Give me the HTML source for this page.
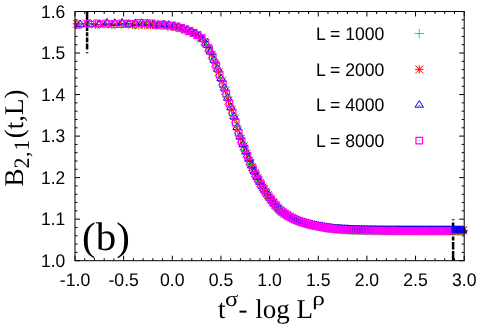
<!DOCTYPE html>
<html><head><meta charset="utf-8"><title>plot</title>
<style>
html,body{margin:0;padding:0;background:#fff;}
body{width:480px;height:329px;overflow:hidden;font-family:"Liberation Sans",sans-serif;}
svg{display:block;will-change:transform;}
text{text-rendering:geometricPrecision;}
</style></head><body>
<svg width="480" height="329" viewBox="0 0 480 329">
<rect width="480" height="329" fill="#fff"/>
<path d="M75 260.7v-5M75 11.5v5M84.73 260.7v-2.5M84.73 11.5v2.5M94.46 260.7v-2.5M94.46 11.5v2.5M104.19 260.7v-2.5M104.19 11.5v2.5M113.92 260.7v-2.5M113.92 11.5v2.5M123.65 260.7v-5M123.65 11.5v5M133.38 260.7v-2.5M133.38 11.5v2.5M143.11 260.7v-2.5M143.11 11.5v2.5M152.84 260.7v-2.5M152.84 11.5v2.5M162.57 260.7v-2.5M162.57 11.5v2.5M172.3 260.7v-5M172.3 11.5v5M182.03 260.7v-2.5M182.03 11.5v2.5M191.76 260.7v-2.5M191.76 11.5v2.5M201.49 260.7v-2.5M201.49 11.5v2.5M211.22 260.7v-2.5M211.22 11.5v2.5M220.95 260.7v-5M220.95 11.5v5M230.68 260.7v-2.5M230.68 11.5v2.5M240.41 260.7v-2.5M240.41 11.5v2.5M250.14 260.7v-2.5M250.14 11.5v2.5M259.87 260.7v-2.5M259.87 11.5v2.5M269.6 260.7v-5M269.6 11.5v5M279.33 260.7v-2.5M279.33 11.5v2.5M289.06 260.7v-2.5M289.06 11.5v2.5M298.79 260.7v-2.5M298.79 11.5v2.5M308.52 260.7v-2.5M308.52 11.5v2.5M318.25 260.7v-5M318.25 11.5v5M327.98 260.7v-2.5M327.98 11.5v2.5M337.71 260.7v-2.5M337.71 11.5v2.5M347.44 260.7v-2.5M347.44 11.5v2.5M357.17 260.7v-2.5M357.17 11.5v2.5M366.9 260.7v-5M366.9 11.5v5M376.63 260.7v-2.5M376.63 11.5v2.5M386.36 260.7v-2.5M386.36 11.5v2.5M396.09 260.7v-2.5M396.09 11.5v2.5M405.82 260.7v-2.5M405.82 11.5v2.5M415.55 260.7v-5M415.55 11.5v5M425.28 260.7v-2.5M425.28 11.5v2.5M435.01 260.7v-2.5M435.01 11.5v2.5M444.74 260.7v-2.5M444.74 11.5v2.5M454.47 260.7v-2.5M454.47 11.5v2.5M464.2 260.7v-5M464.2 11.5v5M75 260.7h5M464.2 260.7h-5M75 252.39h2.5M464.2 252.39h-2.5M75 244.09h2.5M464.2 244.09h-2.5M75 235.78h2.5M464.2 235.78h-2.5M75 227.47h2.5M464.2 227.47h-2.5M75 219.17h5M464.2 219.17h-5M75 210.86h2.5M464.2 210.86h-2.5M75 202.55h2.5M464.2 202.55h-2.5M75 194.25h2.5M464.2 194.25h-2.5M75 185.94h2.5M464.2 185.94h-2.5M75 177.63h5M464.2 177.63h-5M75 169.33h2.5M464.2 169.33h-2.5M75 161.02h2.5M464.2 161.02h-2.5M75 152.71h2.5M464.2 152.71h-2.5M75 144.41h2.5M464.2 144.41h-2.5M75 136.1h5M464.2 136.1h-5M75 127.79h2.5M464.2 127.79h-2.5M75 119.49h2.5M464.2 119.49h-2.5M75 111.18h2.5M464.2 111.18h-2.5M75 102.87h2.5M464.2 102.87h-2.5M75 94.57h5M464.2 94.57h-5M75 86.26h2.5M464.2 86.26h-2.5M75 77.95h2.5M464.2 77.95h-2.5M75 69.65h2.5M464.2 69.65h-2.5M75 61.34h2.5M464.2 61.34h-2.5M75 53.03h5M464.2 53.03h-5M75 44.73h2.5M464.2 44.73h-2.5M75 36.42h2.5M464.2 36.42h-2.5M75 28.11h2.5M464.2 28.11h-2.5M75 19.81h2.5M464.2 19.81h-2.5M75 11.5h5M464.2 11.5h-5" stroke="#000" stroke-width="1" fill="none"/>
<path d="M87.1 11.5V26M87.1 27.3V31M87.1 32.2V36.2M87.1 37.5V42.2M87.1 43.6V49.4M87.1 52.3V53.3" stroke="#000" stroke-width="2.5" fill="none"/>
<path d="M453.1 219.3V220.3M453.1 222.5V226.6M453.1 228V235M453.1 236.4V240.4M453.1 242.1V249.6M453.1 251.1V260.6" stroke="#000" stroke-width="2.5" fill="none"/>
<path d="M74.6 24.15h9.4M79.3 19.45v9.4M84.27 23.8h9.4M88.97 19.1v9.4M93.2 24.8h9.4M97.9 20.1v9.4M101.5 23.64h9.4M106.2 18.94v9.4M109.26 24.57h9.4M113.96 19.87v9.4M116.56 24.23h9.4M121.26 19.53v9.4M123.44 23.64h9.4M128.14 18.94v9.4M129.95 24.59h9.4M134.65 19.89v9.4M136.15 23.72h9.4M140.85 19.02v9.4M142.05 24.61h9.4M146.75 19.91v9.4M147.7 24.01h9.4M152.4 19.31v9.4M153.11 24.39h9.4M157.81 19.69v9.4M158.3 25.55h9.4M163 20.85v9.4M163.29 26.8h9.4M167.99 22.1v9.4M168.11 26.58h9.4M172.81 21.88v9.4M172.76 27.77h9.4M177.46 23.07v9.4M177.25 29.33h9.4M181.95 24.63v9.4M181.61 30.9h9.4M186.31 26.2v9.4M185.83 32.28h9.4M190.53 27.58v9.4M189.92 34.05h9.4M194.62 29.35v9.4M193.9 36.4h9.4M198.6 31.7v9.4M197.78 39.57h9.4M202.48 34.87v9.4M201.55 44.43h9.4M206.25 39.73v9.4M205.23 51.11h9.4M209.93 46.41v9.4M208.81 59h9.4M213.51 54.3v9.4M212.32 67.81h9.4M217.02 63.11v9.4M215.74 77.04h9.4M220.44 72.34v9.4M219.09 86.55h9.4M223.79 81.85v9.4M222.36 96.25h9.4M227.06 91.55v9.4M225.57 105.79h9.4M230.27 101.09v9.4M228.71 114.89h9.4M233.41 110.19v9.4M231.8 125.36h9.4M236.5 120.66v9.4M234.82 135.21h9.4M239.52 130.51v9.4M237.79 143.2h9.4M242.49 138.5v9.4M240.7 150.5h9.4M245.4 145.8v9.4M243.56 157.67h9.4M248.26 152.97v9.4M246.38 164.54h9.4M251.08 159.84v9.4M249.15 170.75h9.4M253.85 166.05v9.4M251.87 176.16h9.4M256.57 171.46v9.4M254.55 181.16h9.4M259.25 176.46v9.4M257.19 185.77h9.4M261.89 181.07v9.4M259.79 190.01h9.4M264.49 185.31v9.4M262.35 193.88h9.4M267.05 189.18v9.4M264.87 197.42h9.4M269.57 192.72v9.4M267.36 200.8h9.4M272.06 196.1v9.4M269.82 203.98h9.4M274.52 199.28v9.4M272.24 206.87h9.4M276.94 202.17v9.4M274.63 209.39h9.4M279.33 204.69v9.4M276.99 211.46h9.4M281.69 206.76v9.4M279.32 213.17h9.4M284.02 208.47v9.4M281.63 214.72h9.4M286.33 210.02v9.4M283.9 216.13h9.4M288.6 211.43v9.4M286.15 217.4h9.4M290.85 212.7v9.4M288.37 218.55h9.4M293.07 213.85v9.4M290.57 219.59h9.4M295.27 214.89v9.4M292.75 220.51h9.4M297.45 215.81v9.4M294.9 221.35h9.4M299.6 216.65v9.4M297.02 222.09h9.4M301.72 217.39v9.4M299.13 222.78h9.4M303.83 218.08v9.4M301.21 223.41h9.4M305.91 218.71v9.4M303.28 223.99h9.4M307.98 219.29v9.4M305.32 224.52h9.4M310.02 219.82v9.4M307.35 225.02h9.4M312.05 220.32v9.4M309.35 225.48h9.4M314.05 220.78v9.4M311.34 225.9h9.4M316.04 221.2v9.4M313.31 226.3h9.4M318.01 221.6v9.4M315.26 226.68h9.4M319.96 221.98v9.4M317.19 227.05h9.4M321.89 222.35v9.4M319.11 227.41h9.4M323.81 222.71v9.4M321.01 227.74h9.4M325.71 223.04v9.4M322.9 228.06h9.4M327.6 223.36v9.4M324.77 228.35h9.4M329.47 223.65v9.4M326.62 228.62h9.4M331.32 223.92v9.4M328.46 228.85h9.4M333.16 224.15v9.4M330.29 229.05h9.4M334.99 224.35v9.4M332.1 229.21h9.4M336.8 224.51v9.4M333.9 229.35h9.4M338.6 224.65v9.4M335.69 229.48h9.4M340.39 224.78v9.4M337.46 229.61h9.4M342.16 224.91v9.4M339.22 229.73h9.4M343.92 225.03v9.4M340.97 229.84h9.4M345.67 225.14v9.4M342.71 229.94h9.4M347.41 225.24v9.4M344.43 230.03h9.4M349.13 225.33v9.4M346.14 230.12h9.4M350.84 225.42v9.4M347.85 230.19h9.4M352.55 225.49v9.4M349.54 230.26h9.4M354.24 225.56v9.4M351.22 230.31h9.4M355.92 225.61v9.4M352.89 230.36h9.4M357.59 225.66v9.4M354.55 230.4h9.4M359.25 225.7v9.4M356.19 230.42h9.4M360.89 225.72v9.4M357.83 230.45h9.4M362.53 225.75v9.4M359.46 230.48h9.4M364.16 225.78v9.4M361.08 230.5h9.4M365.78 225.8v9.4M362.7 230.53h9.4M367.4 225.83v9.4M364.3 230.55h9.4M369 225.85v9.4M365.89 230.57h9.4M370.59 225.87v9.4M367.48 230.59h9.4M372.18 225.89v9.4M369.05 230.61h9.4M373.75 225.91v9.4M370.62 230.63h9.4M375.32 225.93v9.4M372.18 230.65h9.4M376.88 225.95v9.4M373.73 230.66h9.4M378.43 225.96v9.4M375.27 230.68h9.4M379.97 225.98v9.4M376.81 230.69h9.4M381.51 225.99v9.4M378.34 230.71h9.4M383.04 226.01v9.4M379.86 230.72h9.4M384.56 226.02v9.4M381.37 230.73h9.4M386.07 226.03v9.4M382.88 230.74h9.4M387.58 226.04v9.4M384.38 230.75h9.4M389.08 226.05v9.4M385.87 230.76h9.4M390.57 226.06v9.4M387.36 230.77h9.4M392.06 226.07v9.4M388.84 230.78h9.4M393.54 226.08v9.4M390.31 230.78h9.4M395.01 226.08v9.4M391.77 230.79h9.4M396.47 226.09v9.4M393.23 230.79h9.4M397.93 226.09v9.4M394.69 230.8h9.4M399.39 226.1v9.4M396.14 230.8h9.4M400.84 226.1v9.4M397.58 230.81h9.4M402.28 226.11v9.4M399.01 230.81h9.4M403.71 226.11v9.4M400.44 230.81h9.4M405.14 226.11v9.4M401.87 230.82h9.4M406.57 226.12v9.4M403.29 230.82h9.4M407.99 226.12v9.4M404.7 230.82h9.4M409.4 226.12v9.4M406.11 230.82h9.4M410.81 226.12v9.4M407.51 230.83h9.4M412.21 226.13v9.4M408.91 230.83h9.4M413.61 226.13v9.4M410.3 230.83h9.4M415 226.13v9.4M411.69 230.84h9.4M416.39 226.14v9.4M413.07 230.84h9.4M417.77 226.14v9.4M414.45 230.84h9.4M419.15 226.14v9.4M415.82 230.84h9.4M420.52 226.14v9.4M417.19 230.85h9.4M421.89 226.15v9.4M418.55 230.85h9.4M423.25 226.15v9.4M419.91 230.85h9.4M424.61 226.15v9.4M421.27 230.85h9.4M425.97 226.15v9.4M422.62 230.86h9.4M427.32 226.16v9.4M423.96 230.86h9.4M428.66 226.16v9.4M425.3 230.86h9.4M430 226.16v9.4M426.64 230.86h9.4M431.34 226.16v9.4M427.97 230.86h9.4M432.67 226.16v9.4M429.3 230.87h9.4M434 226.17v9.4M430.63 230.87h9.4M435.33 226.17v9.4M431.95 230.87h9.4M436.65 226.17v9.4M433.27 230.87h9.4M437.97 226.17v9.4M434.58 230.87h9.4M439.28 226.17v9.4M435.89 230.87h9.4M440.59 226.17v9.4M437.2 230.88h9.4M441.9 226.18v9.4M438.5 230.88h9.4M443.2 226.18v9.4M439.8 230.88h9.4M444.5 226.18v9.4M441.09 230.88h9.4M445.79 226.18v9.4M442.38 230.88h9.4M447.08 226.18v9.4M443.67 230.88h9.4M448.37 226.18v9.4M444.95 230.89h9.4M449.65 226.19v9.4M446.24 230.89h9.4M450.94 226.19v9.4M447.51 230.89h9.4M452.21 226.19v9.4M448.79 230.89h9.4M453.49 226.19v9.4M450.06 230.89h9.4M454.76 226.19v9.4M451.33 230.89h9.4M456.03 226.19v9.4M452.59 230.89h9.4M457.29 226.19v9.4M453.85 230.89h9.4M458.55 226.19v9.4M455.11 230.89h9.4M459.81 226.19v9.4M456.37 230.89h9.4M461.07 226.19v9.4M457.62 230.89h9.4M462.32 226.19v9.4M458.87 230.9h9.4M463.57 226.2v9.4" fill="none" stroke="#00ff00" stroke-width="1" stroke-linejoin="round"/>
<path d="M76.9 19.63v8.4M73 19.93l7.8 7.8M73 27.73l7.8 -7.8M72.7 23.83h8.4M86.65 19.23v8.4M82.75 19.53l7.8 7.8M82.75 27.33l7.8 -7.8M82.45 23.43h8.4M95.65 20.44v8.4M91.75 20.74l7.8 7.8M91.75 28.54l7.8 -7.8M91.45 24.64h8.4M104.01 19.97v8.4M100.11 20.27l7.8 7.8M100.11 28.07l7.8 -7.8M99.81 24.17h8.4M111.82 20.46v8.4M107.92 20.76l7.8 7.8M107.92 28.56l7.8 -7.8M107.62 24.66h8.4M119.15 19.56v8.4M115.25 19.86l7.8 7.8M115.25 27.66l7.8 -7.8M114.95 23.76h8.4M126.07 19.36v8.4M122.17 19.66l7.8 7.8M122.17 27.46l7.8 -7.8M121.87 23.56h8.4M132.63 20.58v8.4M128.73 20.88l7.8 7.8M128.73 28.68l7.8 -7.8M128.43 24.78h8.4M138.85 20.99v8.4M134.95 21.29l7.8 7.8M134.95 29.09l7.8 -7.8M134.65 25.19h8.4M144.78 20.81v8.4M140.88 21.11l7.8 7.8M140.88 28.91l7.8 -7.8M140.58 25.01h8.4M150.45 20.82v8.4M146.55 21.12l7.8 7.8M146.55 28.92l7.8 -7.8M146.25 25.02h8.4M155.88 21.11v8.4M151.98 21.41l7.8 7.8M151.98 29.21l7.8 -7.8M151.68 25.31h8.4M161.09 21.37v8.4M157.19 21.67l7.8 7.8M157.19 29.47l7.8 -7.8M156.89 25.57h8.4M166.11 20.96v8.4M162.21 21.26l7.8 7.8M162.21 29.06l7.8 -7.8M161.91 25.16h8.4M170.94 22.17v8.4M167.04 22.47l7.8 7.8M167.04 30.27l7.8 -7.8M166.74 26.37h8.4M175.61 22.89v8.4M171.71 23.19l7.8 7.8M171.71 30.99l7.8 -7.8M171.41 27.09h8.4M180.12 23.66v8.4M176.22 23.96l7.8 7.8M176.22 31.76l7.8 -7.8M175.92 27.86h8.4M184.48 25.01v8.4M180.58 25.31l7.8 7.8M180.58 33.11l7.8 -7.8M180.28 29.21h8.4M188.71 26.78v8.4M184.81 27.08l7.8 7.8M184.81 34.88l7.8 -7.8M184.51 30.98h8.4M192.82 28.57v8.4M188.92 28.87l7.8 7.8M188.92 36.67l7.8 -7.8M188.62 32.77h8.4M196.82 30.74v8.4M192.92 31.04l7.8 7.8M192.92 38.84l7.8 -7.8M192.62 34.94h8.4M200.7 33.47v8.4M196.8 33.77l7.8 7.8M196.8 41.57l7.8 -7.8M196.5 37.67h8.4M204.48 37.34v8.4M200.58 37.64l7.8 7.8M200.58 45.44l7.8 -7.8M200.28 41.54h8.4M208.17 43.36v8.4M204.27 43.66l7.8 7.8M204.27 51.46l7.8 -7.8M203.97 47.56h8.4M211.76 50.54v8.4M207.86 50.84l7.8 7.8M207.86 58.64l7.8 -7.8M207.56 54.74h8.4M215.27 59.03v8.4M211.37 59.33l7.8 7.8M211.37 67.13l7.8 -7.8M211.07 63.23h8.4M218.71 67.95v8.4M214.81 68.25l7.8 7.8M214.81 76.05l7.8 -7.8M214.51 72.15h8.4M222.06 77.34v8.4M218.16 77.64l7.8 7.8M218.16 85.44l7.8 -7.8M217.86 81.54h8.4M225.34 86.86v8.4M221.44 87.16l7.8 7.8M221.44 94.96l7.8 -7.8M221.14 91.06h8.4M228.56 96.51v8.4M224.66 96.81l7.8 7.8M224.66 104.61l7.8 -7.8M224.36 100.71h8.4M231.71 105.71v8.4M227.81 106.01l7.8 7.8M227.81 113.81l7.8 -7.8M227.51 109.91h8.4M234.79 115.12v8.4M230.89 115.42l7.8 7.8M230.89 123.22l7.8 -7.8M230.59 119.32h8.4M237.82 125.8v8.4M233.92 126.1l7.8 7.8M233.92 133.9l7.8 -7.8M233.62 130h8.4M240.8 134.56v8.4M236.9 134.86l7.8 7.8M236.9 142.66l7.8 -7.8M236.6 138.76h8.4M243.71 142.1v8.4M239.81 142.4l7.8 7.8M239.81 150.2l7.8 -7.8M239.51 146.3h8.4M246.58 149.26v8.4M242.68 149.56l7.8 7.8M242.68 157.36l7.8 -7.8M242.38 153.46h8.4M249.4 156.29v8.4M245.5 156.59l7.8 7.8M245.5 164.39l7.8 -7.8M245.2 160.49h8.4M252.17 162.88v8.4M248.27 163.18l7.8 7.8M248.27 170.98l7.8 -7.8M247.97 167.08h8.4M254.9 168.7v8.4M251 169l7.8 7.8M251 176.8l7.8 -7.8M250.7 172.9h8.4M257.59 173.9v8.4M253.69 174.2l7.8 7.8M253.69 182l7.8 -7.8M253.39 178.1h8.4M260.23 178.71v8.4M256.33 179.01l7.8 7.8M256.33 186.81l7.8 -7.8M256.03 182.91h8.4M262.83 183.15v8.4M258.93 183.45l7.8 7.8M258.93 191.25l7.8 -7.8M258.63 187.35h8.4M265.4 187.22v8.4M261.5 187.52l7.8 7.8M261.5 195.32l7.8 -7.8M261.2 191.42h8.4M267.92 190.94v8.4M264.02 191.24l7.8 7.8M264.02 199.04l7.8 -7.8M263.72 195.14h8.4M270.42 194.38v8.4M266.52 194.68l7.8 7.8M266.52 202.48l7.8 -7.8M266.22 198.58h8.4M272.88 197.68v8.4M268.98 197.98l7.8 7.8M268.98 205.78l7.8 -7.8M268.68 201.88h8.4M275.3 200.75v8.4M271.4 201.05l7.8 7.8M271.4 208.85l7.8 -7.8M271.1 204.95h8.4M277.7 203.51v8.4M273.8 203.81l7.8 7.8M273.8 211.61l7.8 -7.8M273.5 207.71h8.4M280.06 205.88v8.4M276.16 206.18l7.8 7.8M276.16 213.98l7.8 -7.8M275.86 210.08h8.4M282.39 207.78v8.4M278.49 208.08l7.8 7.8M278.49 215.88l7.8 -7.8M278.19 211.98h8.4M284.7 209.4v8.4M280.8 209.7l7.8 7.8M280.8 217.5l7.8 -7.8M280.5 213.6h8.4M286.98 210.88v8.4M283.08 211.18l7.8 7.8M283.08 218.98l7.8 -7.8M282.78 215.08h8.4M289.23 212.22v8.4M285.33 212.52l7.8 7.8M285.33 220.32l7.8 -7.8M285.03 216.42h8.4M291.46 213.43v8.4M287.56 213.73l7.8 7.8M287.56 221.53l7.8 -7.8M287.26 217.63h8.4M293.66 214.52v8.4M289.76 214.82l7.8 7.8M289.76 222.62l7.8 -7.8M289.46 218.72h8.4M295.83 215.5v8.4M291.93 215.8l7.8 7.8M291.93 223.6l7.8 -7.8M291.63 219.7h8.4M297.99 216.38v8.4M294.09 216.68l7.8 7.8M294.09 224.48l7.8 -7.8M293.79 220.58h8.4M300.12 217.17v8.4M296.22 217.47l7.8 7.8M296.22 225.27l7.8 -7.8M295.92 221.37h8.4M302.22 217.87v8.4M298.32 218.17l7.8 7.8M298.32 225.97l7.8 -7.8M298.02 222.07h8.4M304.31 218.52v8.4M300.41 218.82l7.8 7.8M300.41 226.62l7.8 -7.8M300.11 222.72h8.4M306.38 219.12v8.4M302.48 219.42l7.8 7.8M302.48 227.22l7.8 -7.8M302.18 223.32h8.4M308.42 219.67v8.4M304.52 219.97l7.8 7.8M304.52 227.77l7.8 -7.8M304.22 223.87h8.4M310.45 220.18v8.4M306.55 220.48l7.8 7.8M306.55 228.28l7.8 -7.8M306.25 224.38h8.4M312.45 220.64v8.4M308.55 220.94l7.8 7.8M308.55 228.74l7.8 -7.8M308.25 224.84h8.4M314.44 221.08v8.4M310.54 221.38l7.8 7.8M310.54 229.18l7.8 -7.8M310.24 225.28h8.4M316.41 221.48v8.4M312.51 221.78l7.8 7.8M312.51 229.58l7.8 -7.8M312.21 225.68h8.4M318.37 221.85v8.4M314.47 222.15l7.8 7.8M314.47 229.95l7.8 -7.8M314.17 226.05h8.4M320.3 222.21v8.4M316.4 222.51l7.8 7.8M316.4 230.31l7.8 -7.8M316.1 226.41h8.4M322.22 222.56v8.4M318.32 222.86l7.8 7.8M318.32 230.66l7.8 -7.8M318.02 226.76h8.4M324.12 222.9v8.4M320.22 223.2l7.8 7.8M320.22 231l7.8 -7.8M319.92 227.1h8.4M326.01 223.21v8.4M322.11 223.51l7.8 7.8M322.11 231.31l7.8 -7.8M321.81 227.41h8.4M327.88 223.51v8.4M323.98 223.81l7.8 7.8M323.98 231.61l7.8 -7.8M323.68 227.71h8.4M329.74 223.78v8.4M325.84 224.08l7.8 7.8M325.84 231.88l7.8 -7.8M325.54 227.98h8.4M331.58 224.02v8.4M327.68 224.32l7.8 7.8M327.68 232.12l7.8 -7.8M327.38 228.22h8.4M333.41 224.23v8.4M329.51 224.53l7.8 7.8M329.51 232.33l7.8 -7.8M329.21 228.43h8.4M335.22 224.41v8.4M331.32 224.71l7.8 7.8M331.32 232.51l7.8 -7.8M331.02 228.61h8.4M337.03 224.55v8.4M333.13 224.85l7.8 7.8M333.13 232.65l7.8 -7.8M332.83 228.75h8.4M338.81 224.67v8.4M334.91 224.97l7.8 7.8M334.91 232.77l7.8 -7.8M334.61 228.87h8.4M340.59 224.8v8.4M336.69 225.1l7.8 7.8M336.69 232.9l7.8 -7.8M336.39 229h8.4M342.35 224.92v8.4M338.45 225.22l7.8 7.8M338.45 233.02l7.8 -7.8M338.15 229.12h8.4M344.1 225.04v8.4M340.2 225.34l7.8 7.8M340.2 233.14l7.8 -7.8M339.9 229.24h8.4M345.84 225.15v8.4M341.94 225.45l7.8 7.8M341.94 233.25l7.8 -7.8M341.64 229.35h8.4M347.56 225.25v8.4M343.66 225.55l7.8 7.8M343.66 233.35l7.8 -7.8M343.36 229.45h8.4M349.28 225.34v8.4M345.38 225.64l7.8 7.8M345.38 233.44l7.8 -7.8M345.08 229.54h8.4M350.98 225.42v8.4M347.08 225.72l7.8 7.8M347.08 233.52l7.8 -7.8M346.78 229.62h8.4M352.67 225.5v8.4M348.77 225.8l7.8 7.8M348.77 233.6l7.8 -7.8M348.47 229.7h8.4M354.35 225.56v8.4M350.45 225.86l7.8 7.8M350.45 233.66l7.8 -7.8M350.15 229.76h8.4M356.02 225.62v8.4M352.12 225.92l7.8 7.8M352.12 233.72l7.8 -7.8M351.82 229.82h8.4M357.68 225.66v8.4M353.78 225.96l7.8 7.8M353.78 233.76l7.8 -7.8M353.48 229.86h8.4M359.33 225.7v8.4M355.43 226l7.8 7.8M355.43 233.8l7.8 -7.8M355.13 229.9h8.4M360.97 225.73v8.4M357.07 226.03l7.8 7.8M357.07 233.83l7.8 -7.8M356.77 229.93h8.4M362.6 225.75v8.4M358.7 226.05l7.8 7.8M358.7 233.85l7.8 -7.8M358.4 229.95h8.4M364.23 225.78v8.4M360.33 226.08l7.8 7.8M360.33 233.88l7.8 -7.8M360.03 229.98h8.4M365.84 225.8v8.4M361.94 226.1l7.8 7.8M361.94 233.9l7.8 -7.8M361.64 230h8.4M367.44 225.83v8.4M363.54 226.13l7.8 7.8M363.54 233.93l7.8 -7.8M363.24 230.03h8.4M369.03 225.85v8.4M365.13 226.15l7.8 7.8M365.13 233.95l7.8 -7.8M364.83 230.05h8.4M370.62 225.87v8.4M366.72 226.17l7.8 7.8M366.72 233.97l7.8 -7.8M366.42 230.07h8.4M372.2 225.89v8.4M368.3 226.19l7.8 7.8M368.3 233.99l7.8 -7.8M368 230.09h8.4M373.76 225.91v8.4M369.86 226.21l7.8 7.8M369.86 234.01l7.8 -7.8M369.56 230.11h8.4M375.33 225.93v8.4M371.43 226.23l7.8 7.8M371.43 234.03l7.8 -7.8M371.13 230.13h8.4M376.88 225.95v8.4M372.98 226.25l7.8 7.8M372.98 234.05l7.8 -7.8M372.68 230.15h8.4M378.42 225.96v8.4M374.52 226.26l7.8 7.8M374.52 234.06l7.8 -7.8M374.22 230.16h8.4M379.96 225.98v8.4M376.06 226.28l7.8 7.8M376.06 234.08l7.8 -7.8M375.76 230.18h8.4M381.49 225.99v8.4M377.59 226.29l7.8 7.8M377.59 234.09l7.8 -7.8M377.29 230.19h8.4M383.01 226.01v8.4M379.11 226.31l7.8 7.8M379.11 234.11l7.8 -7.8M378.81 230.21h8.4M384.52 226.02v8.4M380.62 226.32l7.8 7.8M380.62 234.12l7.8 -7.8M380.32 230.22h8.4M386.03 226.03v8.4M382.13 226.33l7.8 7.8M382.13 234.13l7.8 -7.8M381.83 230.23h8.4M387.53 226.04v8.4M383.63 226.34l7.8 7.8M383.63 234.14l7.8 -7.8M383.33 230.24h8.4M389.02 226.05v8.4M385.12 226.35l7.8 7.8M385.12 234.15l7.8 -7.8M384.82 230.25h8.4M390.51 226.06v8.4M386.61 226.36l7.8 7.8M386.61 234.16l7.8 -7.8M386.31 230.26h8.4M391.99 226.07v8.4M388.09 226.37l7.8 7.8M388.09 234.17l7.8 -7.8M387.79 230.27h8.4M393.46 226.08v8.4M389.56 226.38l7.8 7.8M389.56 234.18l7.8 -7.8M389.26 230.28h8.4M394.93 226.08v8.4M391.03 226.38l7.8 7.8M391.03 234.18l7.8 -7.8M390.73 230.28h8.4M396.39 226.09v8.4M392.49 226.39l7.8 7.8M392.49 234.19l7.8 -7.8M392.19 230.29h8.4M397.85 226.09v8.4M393.95 226.39l7.8 7.8M393.95 234.19l7.8 -7.8M393.65 230.29h8.4M399.29 226.1v8.4M395.39 226.4l7.8 7.8M395.39 234.2l7.8 -7.8M395.09 230.3h8.4M400.74 226.1v8.4M396.84 226.4l7.8 7.8M396.84 234.2l7.8 -7.8M396.54 230.3h8.4M402.17 226.11v8.4M398.27 226.41l7.8 7.8M398.27 234.21l7.8 -7.8M397.97 230.31h8.4M403.6 226.11v8.4M399.7 226.41l7.8 7.8M399.7 234.21l7.8 -7.8M399.4 230.31h8.4M405.03 226.11v8.4M401.13 226.41l7.8 7.8M401.13 234.21l7.8 -7.8M400.83 230.31h8.4M406.45 226.12v8.4M402.55 226.42l7.8 7.8M402.55 234.22l7.8 -7.8M402.25 230.32h8.4M407.86 226.12v8.4M403.96 226.42l7.8 7.8M403.96 234.22l7.8 -7.8M403.66 230.32h8.4M409.27 226.12v8.4M405.37 226.42l7.8 7.8M405.37 234.22l7.8 -7.8M405.07 230.32h8.4M410.67 226.12v8.4M406.77 226.42l7.8 7.8M406.77 234.22l7.8 -7.8M406.47 230.32h8.4M412.07 226.13v8.4M408.17 226.43l7.8 7.8M408.17 234.23l7.8 -7.8M407.87 230.33h8.4M413.46 226.13v8.4M409.56 226.43l7.8 7.8M409.56 234.23l7.8 -7.8M409.26 230.33h8.4M414.85 226.13v8.4M410.95 226.43l7.8 7.8M410.95 234.23l7.8 -7.8M410.65 230.33h8.4M416.24 226.14v8.4M412.34 226.44l7.8 7.8M412.34 234.24l7.8 -7.8M412.04 230.34h8.4M417.61 226.14v8.4M413.71 226.44l7.8 7.8M413.71 234.24l7.8 -7.8M413.41 230.34h8.4M418.99 226.14v8.4M415.09 226.44l7.8 7.8M415.09 234.24l7.8 -7.8M414.79 230.34h8.4M420.36 226.14v8.4M416.46 226.44l7.8 7.8M416.46 234.24l7.8 -7.8M416.16 230.34h8.4M421.72 226.15v8.4M417.82 226.45l7.8 7.8M417.82 234.25l7.8 -7.8M417.52 230.35h8.4M423.08 226.15v8.4M419.18 226.45l7.8 7.8M419.18 234.25l7.8 -7.8M418.88 230.35h8.4M424.43 226.15v8.4M420.53 226.45l7.8 7.8M420.53 234.25l7.8 -7.8M420.23 230.35h8.4M425.78 226.15v8.4M421.88 226.45l7.8 7.8M421.88 234.25l7.8 -7.8M421.58 230.35h8.4M427.13 226.16v8.4M423.23 226.46l7.8 7.8M423.23 234.26l7.8 -7.8M422.93 230.36h8.4M428.47 226.16v8.4M424.57 226.46l7.8 7.8M424.57 234.26l7.8 -7.8M424.27 230.36h8.4M429.81 226.16v8.4M425.91 226.46l7.8 7.8M425.91 234.26l7.8 -7.8M425.61 230.36h8.4M431.14 226.16v8.4M427.24 226.46l7.8 7.8M427.24 234.26l7.8 -7.8M426.94 230.36h8.4M432.47 226.16v8.4M428.57 226.46l7.8 7.8M428.57 234.26l7.8 -7.8M428.27 230.36h8.4M433.8 226.17v8.4M429.9 226.47l7.8 7.8M429.9 234.27l7.8 -7.8M429.6 230.37h8.4M435.12 226.17v8.4M431.22 226.47l7.8 7.8M431.22 234.27l7.8 -7.8M430.92 230.37h8.4M436.44 226.17v8.4M432.54 226.47l7.8 7.8M432.54 234.27l7.8 -7.8M432.24 230.37h8.4M437.75 226.17v8.4M433.85 226.47l7.8 7.8M433.85 234.27l7.8 -7.8M433.55 230.37h8.4M439.06 226.17v8.4M435.16 226.47l7.8 7.8M435.16 234.27l7.8 -7.8M434.86 230.37h8.4M440.37 226.17v8.4M436.47 226.47l7.8 7.8M436.47 234.27l7.8 -7.8M436.17 230.37h8.4M441.67 226.18v8.4M437.77 226.48l7.8 7.8M437.77 234.28l7.8 -7.8M437.47 230.38h8.4M442.97 226.18v8.4M439.07 226.48l7.8 7.8M439.07 234.28l7.8 -7.8M438.77 230.38h8.4M444.26 226.18v8.4M440.36 226.48l7.8 7.8M440.36 234.28l7.8 -7.8M440.06 230.38h8.4M445.55 226.18v8.4M441.65 226.48l7.8 7.8M441.65 234.28l7.8 -7.8M441.35 230.38h8.4M446.84 226.18v8.4M442.94 226.48l7.8 7.8M442.94 234.28l7.8 -7.8M442.64 230.38h8.4M448.13 226.18v8.4M444.23 226.48l7.8 7.8M444.23 234.28l7.8 -7.8M443.93 230.38h8.4M449.41 226.18v8.4M445.51 226.48l7.8 7.8M445.51 234.28l7.8 -7.8M445.21 230.38h8.4M450.69 226.19v8.4M446.79 226.49l7.8 7.8M446.79 234.29l7.8 -7.8M446.49 230.39h8.4M451.96 226.19v8.4M448.06 226.49l7.8 7.8M448.06 234.29l7.8 -7.8M447.76 230.39h8.4M453.23 226.19v8.4M449.33 226.49l7.8 7.8M449.33 234.29l7.8 -7.8M449.03 230.39h8.4M454.5 226.19v8.4M450.6 226.49l7.8 7.8M450.6 234.29l7.8 -7.8M450.3 230.39h8.4M455.77 226.19v8.4M451.87 226.49l7.8 7.8M451.87 234.29l7.8 -7.8M451.57 230.39h8.4M457.03 226.19v8.4M453.13 226.49l7.8 7.8M453.13 234.29l7.8 -7.8M452.83 230.39h8.4M458.29 226.19v8.4M454.39 226.49l7.8 7.8M454.39 234.29l7.8 -7.8M454.09 230.39h8.4M459.54 226.19v8.4M455.64 226.49l7.8 7.8M455.64 234.29l7.8 -7.8M455.34 230.39h8.4M460.8 226.19v8.4M456.9 226.49l7.8 7.8M456.9 234.29l7.8 -7.8M456.6 230.39h8.4M462.05 226.19v8.4M458.15 226.49l7.8 7.8M458.15 234.29l7.8 -7.8M457.85 230.39h8.4M463.3 226.2v8.4M459.4 226.5l7.8 7.8M459.4 234.3l7.8 -7.8M459.1 230.4h8.4" fill="none" stroke="#ff0000" stroke-width="1" stroke-linejoin="round"/>
<path d="M80.2 20.27L76 26.77L84.4 26.77ZM80.2 24.77v0.8M89.83 19.88L85.63 26.38L94.03 26.38ZM89.83 24.38v0.8M98.73 20.24L94.53 26.74L102.93 26.74ZM98.73 24.74v0.8M107 18.51L102.8 25.01L111.2 25.01ZM107 23.01v0.8M114.74 18.83L110.54 25.33L118.94 25.33ZM114.74 23.33v0.8M122.01 18.38L117.81 24.88L126.21 24.88ZM122.01 22.88v0.8M128.87 19.89L124.67 26.39L133.07 26.39ZM128.87 24.39v0.8M135.37 18.92L131.17 25.42L139.57 25.42ZM135.37 23.42v0.8M141.55 18.72L137.35 25.22L145.75 25.22ZM141.55 23.22v0.8M147.44 19.4L143.24 25.9L151.64 25.9ZM147.44 23.9v0.8M153.07 20.53L148.87 27.03L157.27 27.03ZM153.07 25.03v0.8M158.47 20.71L154.27 27.21L162.67 27.21ZM158.47 25.21v0.8M163.65 20.12L159.45 26.62L167.85 26.62ZM163.65 24.62v0.8M168.64 20.62L164.44 27.12L172.84 27.12ZM168.64 25.12v0.8M173.44 22.57L169.24 29.07L177.64 29.07ZM173.44 27.07v0.8M178.08 23.11L173.88 29.61L182.28 29.61ZM178.08 27.61v0.8M182.57 24.37L178.37 30.87L186.77 30.87ZM182.57 28.87v0.8M186.92 25.35L182.72 31.85L191.12 31.85ZM186.92 29.85v0.8M191.13 27.12L186.93 33.62L195.33 33.62ZM191.13 31.62v0.8M195.22 29.34L191.02 35.84L199.42 35.84ZM195.22 33.84v0.8M199.2 31.8L195 38.3L203.4 38.3ZM199.2 36.3v0.8M203.07 35.25L198.87 41.75L207.27 41.75ZM203.07 39.75v0.8M206.83 40.58L202.63 47.08L211.03 47.08ZM206.83 45.08v0.8M210.51 47.51L206.31 54.01L214.71 54.01ZM210.51 52.01v0.8M214.09 55.76L209.89 62.26L218.29 62.26ZM214.09 60.26v0.8M217.59 64.71L213.39 71.21L221.79 71.21ZM217.59 69.21v0.8M221.01 74.13L216.81 80.63L225.21 80.63ZM221.01 78.63v0.8M224.35 83.76L220.15 90.26L228.55 90.26ZM224.35 88.26v0.8M227.62 93.58L223.42 100.08L231.82 100.08ZM227.62 98.08v0.8M230.83 103.11L226.63 109.61L235.03 109.61ZM230.83 107.61v0.8M233.97 112.3L229.77 118.8L238.17 118.8ZM233.97 116.8v0.8M237.05 123.03L232.85 129.53L241.25 129.53ZM237.05 127.53v0.8M240.07 132.46L235.87 138.96L244.27 138.96ZM240.07 136.96v0.8M243.03 140.29L238.83 146.79L247.23 146.79ZM243.03 144.79v0.8M245.94 147.56L241.74 154.06L250.14 154.06ZM245.94 152.06v0.8M248.8 154.72L244.6 161.22L253 161.22ZM248.8 159.22v0.8M251.62 161.5L247.42 168L255.82 168ZM251.62 166v0.8M254.38 167.56L250.18 174.06L258.58 174.06ZM254.38 172.06v0.8M257.1 172.88L252.9 179.38L261.3 179.38ZM257.1 177.38v0.8M259.78 177.82L255.58 184.32L263.98 184.32ZM259.78 182.32v0.8M262.42 182.36L258.22 188.86L266.62 188.86ZM262.42 186.86v0.8M265.01 186.54L260.81 193.04L269.21 193.04ZM265.01 191.04v0.8M267.57 190.34L263.37 196.84L271.77 196.84ZM267.57 194.84v0.8M270.1 193.84L265.9 200.34L274.3 200.34ZM270.1 198.34v0.8M272.58 197.2L268.38 203.7L276.78 203.7ZM272.58 201.7v0.8M275.04 200.33L270.84 206.83L279.24 206.83ZM275.04 204.83v0.8M277.46 203.15L273.26 209.65L281.66 209.65ZM277.46 207.65v0.8M279.85 205.58L275.65 212.08L284.05 212.08ZM279.85 210.08v0.8M282.21 207.53L278.01 214.03L286.41 214.03ZM282.21 212.03v0.8M284.54 209.17L280.34 215.67L288.74 215.67ZM284.54 213.67v0.8M286.84 210.66L282.64 217.16L291.04 217.16ZM286.84 215.16v0.8M289.11 212.01L284.91 218.51L293.31 218.51ZM289.11 216.51v0.8M291.36 213.22L287.16 219.72L295.56 219.72ZM291.36 217.72v0.8M293.58 214.32L289.38 220.82L297.78 220.82ZM293.58 218.82v0.8M295.78 215.3L291.58 221.8L299.98 221.8ZM295.78 219.8v0.8M297.95 216.18L293.75 222.68L302.15 222.68ZM297.95 220.68v0.8M300.1 216.96L295.9 223.46L304.3 223.46ZM300.1 221.46v0.8M302.23 217.67L298.03 224.17L306.43 224.17ZM302.23 222.17v0.8M304.33 218.31L300.13 224.81L308.53 224.81ZM304.33 222.81v0.8M306.42 218.9L302.22 225.4L310.62 225.4ZM306.42 223.4v0.8M308.48 219.44L304.28 225.94L312.68 225.94ZM308.48 223.94v0.8M310.52 219.94L306.32 226.44L314.72 226.44ZM310.52 224.44v0.8M312.55 220.4L308.35 226.9L316.75 226.9ZM312.55 224.9v0.8M314.55 220.83L310.35 227.33L318.75 227.33ZM314.55 225.33v0.8M316.54 221.22L312.34 227.72L320.74 227.72ZM316.54 225.72v0.8M318.5 221.59L314.3 228.09L322.7 228.09ZM318.5 226.09v0.8M320.45 221.94L316.25 228.44L324.65 228.44ZM320.45 226.44v0.8M322.39 222.28L318.19 228.78L326.59 228.78ZM322.39 226.78v0.8M324.3 222.6L320.1 229.1L328.5 229.1ZM324.3 227.1v0.8M326.21 222.91L322.01 229.41L330.41 229.41ZM326.21 227.41v0.8M328.09 223.2L323.89 229.7L332.29 229.7ZM328.09 227.7v0.8M329.96 223.46L325.76 229.96L334.16 229.96ZM329.96 227.96v0.8M331.81 223.69L327.61 230.19L336.01 230.19ZM331.81 228.19v0.8M333.65 223.89L329.45 230.39L337.85 230.39ZM333.65 228.39v0.8M335.48 224.05L331.28 230.55L339.68 230.55ZM335.48 228.55v0.8M337.29 224.18L333.09 230.68L341.49 230.68ZM337.29 228.68v0.8M339.09 224.3L334.89 230.8L343.29 230.8ZM339.09 228.8v0.8M340.88 224.42L336.68 230.92L345.08 230.92ZM340.88 228.92v0.8M342.65 224.54L338.45 231.04L346.85 231.04ZM342.65 229.04v0.8M344.41 224.66L340.21 231.16L348.61 231.16ZM344.41 229.16v0.8M346.16 224.77L341.96 231.27L350.36 231.27ZM346.16 229.27v0.8M347.89 224.87L343.69 231.37L352.09 231.37ZM347.89 229.37v0.8M349.62 224.96L345.42 231.46L353.82 231.46ZM349.62 229.46v0.8M351.33 225.04L347.13 231.54L355.53 231.54ZM351.33 229.54v0.8M353.03 225.11L348.83 231.61L357.23 231.61ZM353.03 229.61v0.8M354.72 225.17L350.52 231.67L358.92 231.67ZM354.72 229.67v0.8M356.4 225.23L352.2 231.73L360.6 231.73ZM356.4 229.73v0.8M358.07 225.27L353.87 231.77L362.27 231.77ZM358.07 229.77v0.8M359.73 225.3L355.53 231.8L363.93 231.8ZM359.73 229.8v0.8M361.38 225.33L357.18 231.83L365.58 231.83ZM361.38 229.83v0.8M363.02 225.36L358.82 231.86L367.22 231.86ZM363.02 229.86v0.8M364.64 225.39L360.44 231.89L368.84 231.89ZM364.64 229.89v0.8M366.26 225.41L362.06 231.91L370.46 231.91ZM366.26 229.91v0.8M367.88 225.43L363.68 231.93L372.08 231.93ZM367.88 229.93v0.8M369.48 225.46L365.28 231.96L373.68 231.96ZM369.48 229.96v0.8M371.07 225.48L366.87 231.98L375.27 231.98ZM371.07 229.98v0.8M372.65 225.5L368.45 232L376.85 232ZM372.65 230v0.8M374.23 225.52L370.03 232.02L378.43 232.02ZM374.23 230.02v0.8M375.8 225.54L371.6 232.04L380 232.04ZM375.8 230.04v0.8M377.36 225.55L373.16 232.05L381.56 232.05ZM377.36 230.05v0.8M378.91 225.57L374.71 232.07L383.11 232.07ZM378.91 230.07v0.8M380.45 225.58L376.25 232.08L384.65 232.08ZM380.45 230.08v0.8M381.99 225.6L377.79 232.1L386.19 232.1ZM381.99 230.1v0.8M383.51 225.61L379.31 232.11L387.71 232.11ZM383.51 230.11v0.8M385.03 225.62L380.83 232.12L389.23 232.12ZM385.03 230.12v0.8M386.55 225.64L382.35 232.14L390.75 232.14ZM386.55 230.14v0.8M388.05 225.65L383.85 232.15L392.25 232.15ZM388.05 230.15v0.8M389.55 225.66L385.35 232.16L393.75 232.16ZM389.55 230.16v0.8M391.04 225.66L386.84 232.16L395.24 232.16ZM391.04 230.16v0.8M392.53 225.67L388.33 232.17L396.73 232.17ZM392.53 230.17v0.8M394.01 225.68L389.81 232.18L398.21 232.18ZM394.01 230.18v0.8M395.48 225.69L391.28 232.19L399.68 232.19ZM395.48 230.19v0.8M396.95 225.69L392.75 232.19L401.15 232.19ZM396.95 230.19v0.8M398.41 225.7L394.21 232.2L402.61 232.2ZM398.41 230.2v0.8M399.86 225.7L395.66 232.2L404.06 232.2ZM399.86 230.2v0.8M401.31 225.7L397.11 232.2L405.51 232.2ZM401.31 230.2v0.8M402.75 225.71L398.55 232.21L406.95 232.21ZM402.75 230.21v0.8M404.19 225.71L399.99 232.21L408.39 232.21ZM404.19 230.21v0.8M405.61 225.71L401.41 232.21L409.81 232.21ZM405.61 230.21v0.8M407.04 225.72L402.84 232.22L411.24 232.22ZM407.04 230.22v0.8M408.46 225.72L404.26 232.22L412.66 232.22ZM408.46 230.22v0.8M409.87 225.72L405.67 232.22L414.07 232.22ZM409.87 230.22v0.8M411.28 225.73L407.08 232.23L415.48 232.23ZM411.28 230.23v0.8M412.68 225.73L408.48 232.23L416.88 232.23ZM412.68 230.23v0.8M414.08 225.73L409.88 232.23L418.28 232.23ZM414.08 230.23v0.8M415.47 225.73L411.27 232.23L419.67 232.23ZM415.47 230.23v0.8M416.86 225.74L412.66 232.24L421.06 232.24ZM416.86 230.24v0.8M418.24 225.74L414.04 232.24L422.44 232.24ZM418.24 230.24v0.8M419.62 225.74L415.42 232.24L423.82 232.24ZM419.62 230.24v0.8M420.99 225.74L416.79 232.24L425.19 232.24ZM420.99 230.24v0.8M422.36 225.75L418.16 232.25L426.56 232.25ZM422.36 230.25v0.8M423.72 225.75L419.52 232.25L427.92 232.25ZM423.72 230.25v0.8M425.08 225.75L420.88 232.25L429.28 232.25ZM425.08 230.25v0.8M426.43 225.75L422.23 232.25L430.63 232.25ZM426.43 230.25v0.8M427.78 225.76L423.58 232.26L431.98 232.26ZM427.78 230.26v0.8M429.13 225.76L424.93 232.26L433.33 232.26ZM429.13 230.26v0.8M430.47 225.76L426.27 232.26L434.67 232.26ZM430.47 230.26v0.8M431.81 225.76L427.61 232.26L436.01 232.26ZM431.81 230.26v0.8M433.14 225.76L428.94 232.26L437.34 232.26ZM433.14 230.26v0.8M434.47 225.77L430.27 232.27L438.67 232.27ZM434.47 230.27v0.8M435.79 225.77L431.59 232.27L439.99 232.27ZM435.79 230.27v0.8M437.12 225.77L432.92 232.27L441.32 232.27ZM437.12 230.27v0.8M438.43 225.77L434.23 232.27L442.63 232.27ZM438.43 230.27v0.8M439.75 225.77L435.55 232.27L443.95 232.27ZM439.75 230.27v0.8M441.05 225.78L436.85 232.28L445.25 232.28ZM441.05 230.28v0.8M442.36 225.78L438.16 232.28L446.56 232.28ZM442.36 230.28v0.8M443.66 225.78L439.46 232.28L447.86 232.28ZM443.66 230.28v0.8M444.96 225.78L440.76 232.28L449.16 232.28ZM444.96 230.28v0.8M446.25 225.78L442.05 232.28L450.45 232.28ZM446.25 230.28v0.8M447.55 225.78L443.35 232.28L451.75 232.28ZM447.55 230.28v0.8M448.83 225.78L444.63 232.28L453.03 232.28ZM448.83 230.28v0.8M450.12 225.79L445.92 232.29L454.32 232.29ZM450.12 230.29v0.8M451.4 225.79L447.2 232.29L455.6 232.29ZM451.4 230.29v0.8M452.68 225.79L448.48 232.29L456.88 232.29ZM452.68 230.29v0.8M453.95 225.79L449.75 232.29L458.15 232.29ZM453.95 230.29v0.8M455.22 225.79L451.02 232.29L459.42 232.29ZM455.22 230.29v0.8M456.49 225.79L452.29 232.29L460.69 232.29ZM456.49 230.29v0.8M457.75 225.79L453.55 232.29L461.95 232.29ZM457.75 230.29v0.8M459.02 225.79L454.82 232.29L463.22 232.29ZM459.02 230.29v0.8M460.28 225.79L456.08 232.29L464.48 232.29ZM460.28 230.29v0.8M461.53 225.79L457.33 232.29L465.73 232.29ZM461.53 230.29v0.8M462.78 225.8L458.58 232.3L466.98 232.3ZM462.78 230.3v0.8" fill="none" stroke="#0000ff" stroke-width="1.0" stroke-linejoin="round"/>
<path d="M75.2 21.25h6.6v6.6h-6.6ZM78.5 24.15v0.8M84.87 20.29h6.6v6.6h-6.6ZM88.17 23.19v0.8M93.8 20.07h6.6v6.6h-6.6ZM97.1 22.97v0.8M102.1 20.26h6.6v6.6h-6.6ZM105.4 23.16v0.8M109.86 20.67h6.6v6.6h-6.6ZM113.16 23.57v0.8M117.16 20.83h6.6v6.6h-6.6ZM120.46 23.73v0.8M124.04 20.55h6.6v6.6h-6.6ZM127.34 23.45v0.8M130.55 20.65h6.6v6.6h-6.6ZM133.85 23.55v0.8M136.75 19.59h6.6v6.6h-6.6ZM140.05 22.49v0.8M142.65 19.82h6.6v6.6h-6.6ZM145.95 22.72v0.8M148.3 20.15h6.6v6.6h-6.6ZM151.6 23.05v0.8M153.71 21.44h6.6v6.6h-6.6ZM157.01 24.34v0.8M158.9 21.04h6.6v6.6h-6.6ZM162.2 23.94v0.8M163.89 22.07h6.6v6.6h-6.6ZM167.19 24.97v0.8M168.71 22.05h6.6v6.6h-6.6ZM172.01 24.95v0.8M173.36 23.19h6.6v6.6h-6.6ZM176.66 26.09v0.8M177.85 24.58h6.6v6.6h-6.6ZM181.15 27.48v0.8M182.21 26.24h6.6v6.6h-6.6ZM185.51 29.14v0.8M186.43 27.81h6.6v6.6h-6.6ZM189.73 30.71v0.8M190.52 29.64h6.6v6.6h-6.6ZM193.82 32.54v0.8M194.5 31.79h6.6v6.6h-6.6ZM197.8 34.69v0.8M198.38 34.88h6.6v6.6h-6.6ZM201.68 37.78v0.8M202.15 39.32h6.6v6.6h-6.6ZM205.45 42.22v0.8M205.83 45.81h6.6v6.6h-6.6ZM209.13 48.71v0.8M209.41 53.4h6.6v6.6h-6.6ZM212.71 56.3v0.8M212.92 62.16h6.6v6.6h-6.6ZM216.22 65.06v0.8M216.34 71.28h6.6v6.6h-6.6ZM219.64 74.18v0.8M219.69 80.8h6.6v6.6h-6.6ZM222.99 83.7v0.8M222.96 90.47h6.6v6.6h-6.6ZM226.26 93.37v0.8M226.17 100.13h6.6v6.6h-6.6ZM229.47 103.03v0.8M229.31 109.22h6.6v6.6h-6.6ZM232.61 112.12v0.8M232.4 119.18h6.6v6.6h-6.6ZM235.7 122.08v0.8M235.42 129.56h6.6v6.6h-6.6ZM238.72 132.46v0.8M238.39 137.83h6.6v6.6h-6.6ZM241.69 140.73v0.8M241.3 145.21h6.6v6.6h-6.6ZM244.6 148.11v0.8M244.16 152.37h6.6v6.6h-6.6ZM247.46 155.27v0.8M246.98 159.33h6.6v6.6h-6.6ZM250.28 162.23v0.8M249.75 165.73h6.6v6.6h-6.6ZM253.05 168.63v0.8M252.47 171.31h6.6v6.6h-6.6ZM255.77 174.21v0.8M255.15 176.4h6.6v6.6h-6.6ZM258.45 179.3v0.8M257.79 181.11h6.6v6.6h-6.6ZM261.09 184.01v0.8M260.39 185.44h6.6v6.6h-6.6ZM263.69 188.34v0.8M262.95 189.41h6.6v6.6h-6.6ZM266.25 192.31v0.8M265.47 193.02h6.6v6.6h-6.6ZM268.77 195.92v0.8M267.96 196.43h6.6v6.6h-6.6ZM271.26 199.33v0.8M270.42 199.67h6.6v6.6h-6.6ZM273.72 202.57v0.8M272.84 202.65h6.6v6.6h-6.6ZM276.14 205.55v0.8M275.23 205.29h6.6v6.6h-6.6ZM278.53 208.19v0.8M277.59 207.51h6.6v6.6h-6.6ZM280.89 210.41v0.8M279.92 209.3h6.6v6.6h-6.6ZM283.22 212.2v0.8M282.23 210.9h6.6v6.6h-6.6ZM285.53 213.8v0.8M284.5 212.35h6.6v6.6h-6.6ZM287.8 215.25v0.8M286.75 213.66h6.6v6.6h-6.6ZM290.05 216.56v0.8M288.97 214.85h6.6v6.6h-6.6ZM292.27 217.75v0.8M291.17 215.92h6.6v6.6h-6.6ZM294.47 218.82v0.8M293.35 216.88h6.6v6.6h-6.6ZM296.65 219.78v0.8M295.5 217.75h6.6v6.6h-6.6ZM298.8 220.65v0.8M297.62 218.52h6.6v6.6h-6.6ZM300.92 221.42v0.8M299.73 219.22h6.6v6.6h-6.6ZM303.03 222.12v0.8M301.81 219.87h6.6v6.6h-6.6ZM305.11 222.77v0.8M303.88 220.47h6.6v6.6h-6.6ZM307.18 223.37v0.8M305.92 221.02h6.6v6.6h-6.6ZM309.22 223.92v0.8M307.95 221.53h6.6v6.6h-6.6ZM311.25 224.43v0.8M309.95 222h6.6v6.6h-6.6ZM313.25 224.9v0.8M311.94 222.44h6.6v6.6h-6.6ZM315.24 225.34v0.8M313.91 222.84h6.6v6.6h-6.6ZM317.21 225.74v0.8M315.86 223.23h6.6v6.6h-6.6ZM319.16 226.13v0.8M317.79 223.6h6.6v6.6h-6.6ZM321.09 226.5v0.8M319.71 223.96h6.6v6.6h-6.6ZM323.01 226.86v0.8M321.61 224.3h6.6v6.6h-6.6ZM324.91 227.2v0.8M323.5 224.63h6.6v6.6h-6.6ZM326.8 227.53v0.8M325.37 224.93h6.6v6.6h-6.6ZM328.67 227.83v0.8M327.22 225.21h6.6v6.6h-6.6ZM330.52 228.11v0.8M329.06 225.45h6.6v6.6h-6.6ZM332.36 228.35v0.8M330.89 225.66h6.6v6.6h-6.6ZM334.19 228.56v0.8M332.7 225.84h6.6v6.6h-6.6ZM336 228.74v0.8M334.5 225.99h6.6v6.6h-6.6ZM337.8 228.89v0.8M336.29 226.12h6.6v6.6h-6.6ZM339.59 229.02v0.8M338.06 226.25h6.6v6.6h-6.6ZM341.36 229.15v0.8M339.82 226.37h6.6v6.6h-6.6ZM343.12 229.27v0.8M341.57 226.49h6.6v6.6h-6.6ZM344.87 229.39v0.8M343.31 226.59h6.6v6.6h-6.6ZM346.61 229.49v0.8M345.03 226.69h6.6v6.6h-6.6ZM348.33 229.59v0.8M346.74 226.78h6.6v6.6h-6.6ZM350.04 229.68v0.8M348.45 226.86h6.6v6.6h-6.6ZM351.75 229.76v0.8M350.14 226.93h6.6v6.6h-6.6ZM353.44 229.83v0.8M351.82 226.99h6.6v6.6h-6.6ZM355.12 229.89v0.8M353.49 227.04h6.6v6.6h-6.6ZM356.79 229.94v0.8M355.15 227.08h6.6v6.6h-6.6ZM358.45 229.98v0.8M356.79 227.11h6.6v6.6h-6.6ZM360.09 230.01v0.8M358.43 227.14h6.6v6.6h-6.6ZM361.73 230.04v0.8M360.06 227.17h6.6v6.6h-6.6ZM363.36 230.07v0.8M361.68 227.19h6.6v6.6h-6.6ZM364.98 230.09v0.8M363.3 227.22h6.6v6.6h-6.6ZM366.6 230.12v0.8M364.9 227.24h6.6v6.6h-6.6ZM368.2 230.14v0.8M366.49 227.26h6.6v6.6h-6.6ZM369.79 230.16v0.8M368.08 227.28h6.6v6.6h-6.6ZM371.38 230.18v0.8M369.65 227.3h6.6v6.6h-6.6ZM372.95 230.2v0.8M371.22 227.32h6.6v6.6h-6.6ZM374.52 230.22v0.8M372.78 227.34h6.6v6.6h-6.6ZM376.08 230.24v0.8M374.33 227.36h6.6v6.6h-6.6ZM377.63 230.26v0.8M375.87 227.37h6.6v6.6h-6.6ZM379.17 230.27v0.8M377.41 227.39h6.6v6.6h-6.6ZM380.71 230.29v0.8M378.94 227.4h6.6v6.6h-6.6ZM382.24 230.3v0.8M380.46 227.41h6.6v6.6h-6.6ZM383.76 230.31v0.8M381.97 227.43h6.6v6.6h-6.6ZM385.27 230.33v0.8M383.48 227.44h6.6v6.6h-6.6ZM386.78 230.34v0.8M384.98 227.45h6.6v6.6h-6.6ZM388.28 230.35v0.8M386.47 227.46h6.6v6.6h-6.6ZM389.77 230.36v0.8M387.96 227.47h6.6v6.6h-6.6ZM391.26 230.37v0.8M389.44 227.47h6.6v6.6h-6.6ZM392.74 230.37v0.8M390.91 227.48h6.6v6.6h-6.6ZM394.21 230.38v0.8M392.37 227.49h6.6v6.6h-6.6ZM395.67 230.39v0.8M393.83 227.49h6.6v6.6h-6.6ZM397.13 230.39v0.8M395.29 227.5h6.6v6.6h-6.6ZM398.59 230.4v0.8M396.74 227.5h6.6v6.6h-6.6ZM400.04 230.4v0.8M398.18 227.5h6.6v6.6h-6.6ZM401.48 230.4v0.8M399.61 227.51h6.6v6.6h-6.6ZM402.91 230.41v0.8M401.04 227.51h6.6v6.6h-6.6ZM404.34 230.41v0.8M402.47 227.51h6.6v6.6h-6.6ZM405.77 230.41v0.8M403.89 227.52h6.6v6.6h-6.6ZM407.19 230.42v0.8M405.3 227.52h6.6v6.6h-6.6ZM408.6 230.42v0.8M406.71 227.52h6.6v6.6h-6.6ZM410.01 230.42v0.8M408.11 227.53h6.6v6.6h-6.6ZM411.41 230.43v0.8M409.51 227.53h6.6v6.6h-6.6ZM412.81 230.43v0.8M410.9 227.53h6.6v6.6h-6.6ZM414.2 230.43v0.8M412.29 227.53h6.6v6.6h-6.6ZM415.59 230.43v0.8M413.67 227.54h6.6v6.6h-6.6ZM416.97 230.44v0.8M415.05 227.54h6.6v6.6h-6.6ZM418.35 230.44v0.8M416.42 227.54h6.6v6.6h-6.6ZM419.72 230.44v0.8M417.79 227.54h6.6v6.6h-6.6ZM421.09 230.44v0.8M419.15 227.55h6.6v6.6h-6.6ZM422.45 230.45v0.8M420.51 227.55h6.6v6.6h-6.6ZM423.81 230.45v0.8M421.87 227.55h6.6v6.6h-6.6ZM425.17 230.45v0.8M423.22 227.55h6.6v6.6h-6.6ZM426.52 230.45v0.8M424.56 227.56h6.6v6.6h-6.6ZM427.86 230.46v0.8M425.9 227.56h6.6v6.6h-6.6ZM429.2 230.46v0.8M427.24 227.56h6.6v6.6h-6.6ZM430.54 230.46v0.8M428.57 227.56h6.6v6.6h-6.6ZM431.87 230.46v0.8M429.9 227.56h6.6v6.6h-6.6ZM433.2 230.46v0.8M431.23 227.57h6.6v6.6h-6.6ZM434.53 230.47v0.8M432.55 227.57h6.6v6.6h-6.6ZM435.85 230.47v0.8M433.87 227.57h6.6v6.6h-6.6ZM437.17 230.47v0.8M435.18 227.57h6.6v6.6h-6.6ZM438.48 230.47v0.8M436.49 227.57h6.6v6.6h-6.6ZM439.79 230.47v0.8M437.8 227.58h6.6v6.6h-6.6ZM441.1 230.48v0.8M439.1 227.58h6.6v6.6h-6.6ZM442.4 230.48v0.8M440.4 227.58h6.6v6.6h-6.6ZM443.7 230.48v0.8M441.69 227.58h6.6v6.6h-6.6ZM444.99 230.48v0.8M442.98 227.58h6.6v6.6h-6.6ZM446.28 230.48v0.8M444.27 227.58h6.6v6.6h-6.6ZM447.57 230.48v0.8" fill="none" stroke="#ff00ff" stroke-width="1.2" stroke-linejoin="round"/>
<rect x="75" y="11.5" width="389.2" height="249.2" fill="none" stroke="#000" stroke-width="1"/>
<g font-family="Liberation Sans, sans-serif" font-size="17.6" fill="#000">
<text transform="translate(65.2 267) scale(0.99 1.04)" text-anchor="end">1.0</text>
<text transform="translate(65.2 225.47) scale(0.99 1.04)" text-anchor="end">1.1</text>
<text transform="translate(65.2 183.93) scale(0.99 1.04)" text-anchor="end">1.2</text>
<text transform="translate(65.2 142.4) scale(0.99 1.04)" text-anchor="end">1.3</text>
<text transform="translate(65.2 100.87) scale(0.99 1.04)" text-anchor="end">1.4</text>
<text transform="translate(65.2 59.33) scale(0.99 1.04)" text-anchor="end">1.5</text>
<text transform="translate(65.2 17.8) scale(0.99 1.04)" text-anchor="end">1.6</text>
<text transform="translate(75 286.2) scale(1 1.04)" text-anchor="middle">-1.0</text>
<text transform="translate(123.65 286.2) scale(1 1.04)" text-anchor="middle">-0.5</text>
<text transform="translate(172.3 286.2) scale(1 1.04)" text-anchor="middle">0.0</text>
<text transform="translate(220.95 286.2) scale(1 1.04)" text-anchor="middle">0.5</text>
<text transform="translate(269.6 286.2) scale(1 1.04)" text-anchor="middle">1.0</text>
<text transform="translate(318.25 286.2) scale(1 1.04)" text-anchor="middle">1.5</text>
<text transform="translate(366.9 286.2) scale(1 1.04)" text-anchor="middle">2.0</text>
<text transform="translate(415.55 286.2) scale(1 1.04)" text-anchor="middle">2.5</text>
<text transform="translate(464.2 286.2) scale(1 1.04)" text-anchor="middle">3.0</text>
<text transform="translate(316 39.9) scale(1 1.04)">L = 1000</text>
<text transform="translate(316 75.5) scale(1 1.04)">L = 2000</text>
<text transform="translate(316 111.1) scale(1 1.04)">L = 4000</text>
<text transform="translate(316 146.7) scale(1 1.04)">L = 8000</text>
</g>
<path d="M414.55 33.5h9.4M419.25 28.8v9.4" fill="none" stroke="#00ff00" stroke-width="1" stroke-linejoin="round"/>
<path d="M419.25 65.2v8.4M415.35 65.5l7.8 7.8M415.35 73.3l7.8 -7.8M415.05 69.4h8.4" fill="none" stroke="#ff0000" stroke-width="1" stroke-linejoin="round"/>
<path d="M419.25 100.7L415.05 107.2L423.45 107.2ZM419.25 105.2v0.8" fill="none" stroke="#0000ff" stroke-width="1.0" stroke-linejoin="round"/>
<path d="M415.95 137.3h6.6v6.6h-6.6ZM419.25 140.2v0.8" fill="none" stroke="#ff00ff" stroke-width="1.2" stroke-linejoin="round"/>
<g font-family="Liberation Serif, serif" fill="#000">
<text transform="translate(82 250) scale(1.025 1)" font-size="40">(b)</text>
<text x="218" y="318" font-size="27">t</text>
<text transform="translate(225 306) scale(1.12 1)" font-size="22">σ</text>
<text x="238.6" y="318" font-size="27">-<tspan dx="1"> log L</tspan></text>
<text transform="translate(312.3 305) scale(1.15 0.9)" font-size="22">ρ</text>
<text transform="translate(23 186.5) rotate(-90)" font-size="27">B<tspan dy="6" font-size="22" letter-spacing="0.6">2,1</tspan><tspan dy="-6" dx="1">(t,L)</tspan></text>
</g>
</svg>
</body></html>
